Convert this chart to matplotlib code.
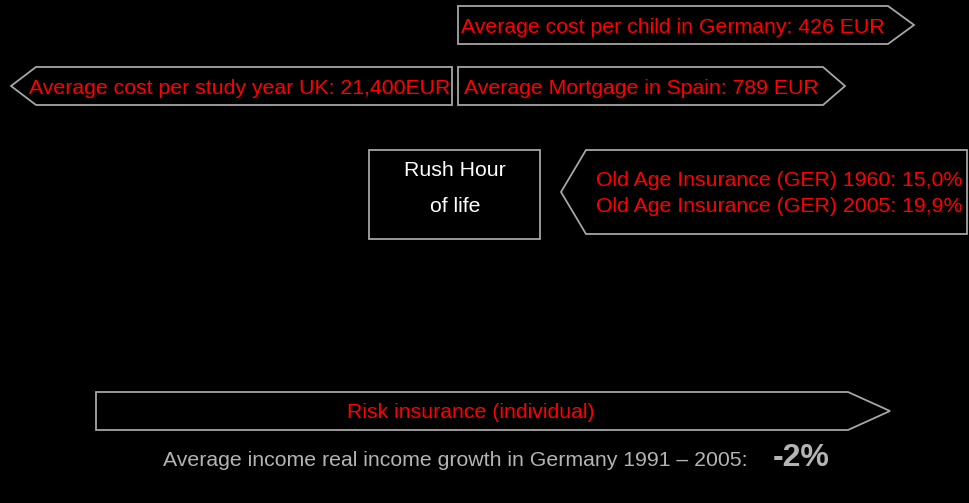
import matplotlib.pyplot as plt
from matplotlib.patches import Polygon

# labels shown in the diagram
child_label = "Average cost per child in Germany: 426 EUR"
study_label = "Average cost per study year UK: 21,400EUR"
mortgage_label = "Average Mortgage in Spain: 789 EUR"
rush_lines = ["Rush Hour", "of life"]
pension_lines = ["Old Age Insurance (GER) 1960: 15,0%",
                 "Old Age Insurance (GER) 2005: 19,9%"]
risk_label = "Risk insurance (individual)"
income_label = "Average income real income growth in Germany 1991 \u2013 2005:"
income_value = "-2%"

edge = "#a6a6a6"
red = "#ff0000"
fs = 15.3
plt.rcParams['font.family'] = ['Liberation Sans', 'DejaVu Sans']

fig = plt.figure(figsize=(9.7, 5.03), dpi=100, facecolor="black")
ax = fig.add_axes([0, 0, 1, 1])
ax.set_facecolor("black")
ax.set_xlim(0, 970)
ax.set_ylim(503, 0)
ax.axis("off")


def right_arrow(x0, y0, y1, xb, xt):
    ym = (y0 + y1) / 2
    pts = [(x0, y0), (xb, y0), (xt, ym), (xb, y1), (x0, y1)]
    ax.add_patch(Polygon(pts, closed=True, fill=False, ec=edge, lw=1.3))


def left_arrow(xt, xb, y0, y1, x1):
    ym = (y0 + y1) / 2
    pts = [(xt, ym), (xb, y0), (x1, y0), (x1, y1), (xb, y1)]
    ax.add_patch(Polygon(pts, closed=True, fill=False, ec=edge, lw=1.3))


# top row
right_arrow(458, 6, 44, 888, 914)
ax.text(461, 27, child_label, color=red, fontsize=fs, va="center", ha="left")

left_arrow(11, 36, 67, 105, 452)
ax.text(29, 88, study_label, color=red, fontsize=fs, va="center", ha="left")

right_arrow(458, 67, 105, 823, 845)
ax.text(464, 88, mortgage_label, color=red, fontsize=fs, va="center", ha="left")

# middle
ax.add_patch(Polygon([(369, 150), (540, 150), (540, 239), (369, 239)],
                     closed=True, fill=False, ec=edge, lw=1.3))
ax.text(455, 171, rush_lines[0], color="white", fontsize=fs, ha="center", va="center")
ax.text(455, 207, rush_lines[1], color="white", fontsize=fs, ha="center", va="center")

left_arrow(561, 586, 150, 234, 967)
ax.text(596, 181, pension_lines[0], color=red, fontsize=fs, va="center", ha="left")
ax.text(596, 207, pension_lines[1], color=red, fontsize=fs, va="center", ha="left")

# bottom
right_arrow(96, 392, 430, 848, 890)
ax.text(471, 412, risk_label, color=red, fontsize=fs, ha="center", va="center")

ax.text(163, 461, income_label, color="#b4b4b4", fontsize=fs, va="center", ha="left")
ax.text(773, 458, income_value, color="#b4b4b4", fontsize=23, fontweight="bold",
        va="center", ha="left")

fig.savefig("out.png", dpi=100, facecolor="black")
